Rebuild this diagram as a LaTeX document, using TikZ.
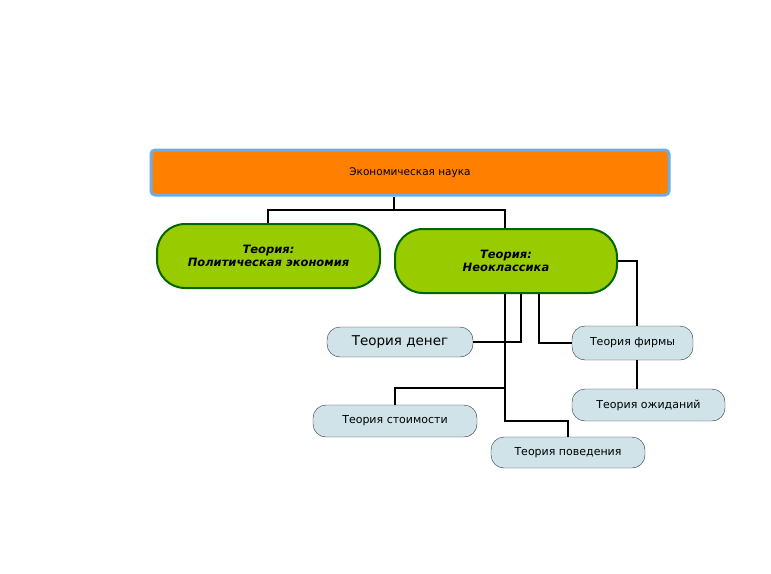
\documentclass[tikz,border=0pt]{standalone}
\usepackage{fontspec}
\setmainfont{DejaVu Sans}
\begin{document}
\begin{tikzpicture}[x=1pt,y=-1pt,
 leaf/.style={draw=black!80,fill=cyan!15!gray!25,rounded corners=13pt,inner sep=0pt,font=\fontsize{11}{12}\selectfont},
 th/.style={draw=green!40!black,line width=2pt,fill=lime!70!green!80!black!90,rounded corners=28pt,inner sep=0pt,font=\fontsize{11.5}{13}\selectfont\bfseries\itshape,align=center},
 ln/.style={line width=1.6pt,black}]
\definecolor{leafc}{HTML}{CFE3E8}\definecolor{grn}{HTML}{99CC00}
\useasboundingbox (0,0) rectangle (771,573);
\node[draw={cyan!70!blue!60},line width=3pt,fill=orange,rounded corners=4pt,minimum width=518,minimum height=45,font=\fontsize{10.5}{12}\selectfont] (top) at (410,172.5) {Экономическая наука};
\node[th,fill=grn,minimum width=223,minimum height=64] (pol) at (268.5,256) {Теория:\\Политическая экономия};
\node[th,fill=grn,minimum width=222,minimum height=64] (neo) at (506,261) {Теория:\\Неоклассика};
\node[leaf,fill=leafc,minimum width=146,minimum height=30,font=\fontsize{13.5}{15}\selectfont] (den) at (400,342) {Теория денег};
\node[leaf,fill=leafc,minimum width=121,minimum height=34] (fir) at (632.5,343) {Теория фирмы};
\node[leaf,fill=leafc,minimum width=153,minimum height=32] (ozh) at (648.5,405) {Теория ожиданий};
\node[leaf,fill=leafc,minimum width=164,minimum height=32] (sto) at (395,421) {Теория стоимости};
\node[leaf,fill=leafc,minimum width=154,minimum height=31] (pov) at (568,452.5) {Теория поведения};
\begin{scope}[on background layer/.try]\end{scope}
\draw[ln] (top.south -| 394,0) |- (268,210) -- (pol.north -| 268,0);
\draw[ln] (394,210) -| (neo.north -| 505,0);
\draw[ln] (neo.east) -| (fir.north -| 637,0);
\draw[ln] (fir.south -| 637,0) -- (ozh.north -| 637,0);
\draw[ln] (neo.south -| 521,0) |- (den.east);
\draw[ln] (neo.south -| 539,0) |- (fir.west);
\draw[ln] (neo.south -| 505,0) |- (568,421) -- (pov.north);
\draw[ln] (505,388) -| (sto.north);
\end{tikzpicture}
\end{document}
